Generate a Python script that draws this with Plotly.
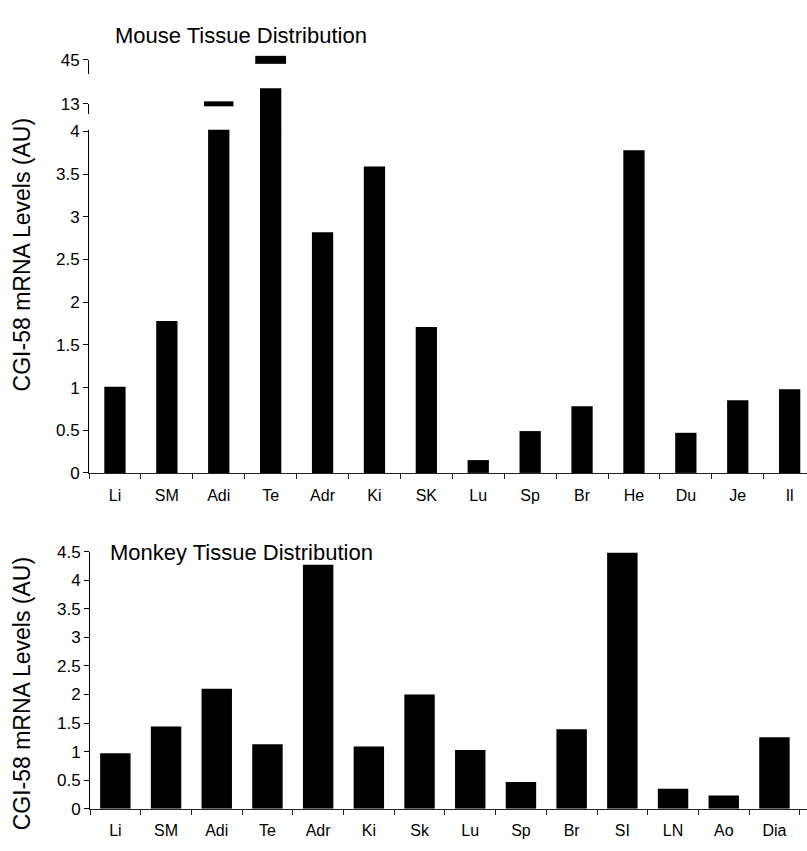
import plotly.graph_objects as go

# ---------------- data ----------------
mouse_tissues = ["Li", "SM", "Adi", "Te", "Adr", "Ki", "SK", "Lu", "Sp", "Br", "He", "Du", "Je", "Il"]
mouse_values = [1.01, 1.78, 13, 45, 2.82, 3.59, 1.71, 0.15, 0.49, 0.78, 3.78, 0.47, 0.85, 0.98]
mouse_ticks = [0, 0.5, 1, 1.5, 2, 2.5, 3, 3.5, 4]
mouse_tick_text = ["0", "0.5", "1", "1.5", "2", "2.5", "3", "3.5", "4"]
break_levels = [13, 45]

monkey_tissues = ["Li", "SM", "Adi", "Te", "Adr", "Ki", "Sk", "Lu", "Sp", "Br", "SI", "LN", "Ao", "Dia"]
monkey_values = [0.97, 1.44, 2.10, 1.13, 4.27, 1.09, 2.00, 1.03, 0.47, 1.39, 4.48, 0.35, 0.23, 1.25]
monkey_ticks = [0, 0.5, 1, 1.5, 2, 2.5, 3, 3.5, 4, 4.5]
monkey_tick_text = ["0", "0.5", "1", "1.5", "2", "2.5", "3", "3.5", "4", "4.5"]

titles = ["Mouse Tissue Distribution", "Monkey Tissue Distribution"]
y_title = "CGI-58 mRNA Levels (AU)"

# ---------------- layout helpers ----------------
W, H = 807, 851
FONT = "Liberation Sans, Arial, Helvetica, sans-serif"


def py(px):
    return 1 - px / H


def px_x(px):
    return px / W


top_zero_px, top_unit_px = 474.5, 87.3
bot_zero_px, bot_top_px = 818, 555
main_top = 4.02
seg_base = main_top - 0.02

# bars that pass beyond the first break continue upward
pass_vals = [v if v > break_levels[0] * 1.1 else None for v in mouse_values]
cap13 = [v if (v > main_top and v <= break_levels[0] * 1.1) else None for v in mouse_values]
cap45 = [v if (v > break_levels[0] * 1.1) else None for v in mouse_values]

fig = go.Figure()

fig.add_trace(go.Bar(x=mouse_tissues, y=mouse_values, xaxis="x", yaxis="y",
                     marker=dict(color="black", line=dict(width=0)), width=0.41, showlegend=False))
fig.add_trace(go.Bar(x=mouse_tissues, y=pass_vals, base=seg_base, xaxis="x", yaxis="y2",
                     marker=dict(color="black", line=dict(width=0)), width=0.41, showlegend=False))
fig.add_trace(go.Scatter(x=mouse_tissues, y=cap13, xaxis="x", yaxis="y3", mode="markers",
                         marker=dict(symbol="line-ew", size=21, color="black",
                                     line=dict(width=5, color="black")),
                         cliponaxis=False, showlegend=False))
fig.add_trace(go.Scatter(x=mouse_tissues, y=cap45, xaxis="x", yaxis="y4", mode="markers",
                         marker=dict(symbol="line-ew", size=22, color="black",
                                     line=dict(width=8, color="black")),
                         cliponaxis=False, showlegend=False))

fig.add_trace(go.Bar(x=monkey_tissues, y=monkey_values, xaxis="x2", yaxis="y5",
                     marker=dict(color="black", line=dict(width=0)), width=0.6, showlegend=False))

tickfont = dict(family=FONT, size=17, color="black")
xtickfont = dict(family=FONT, size=16, color="black")

top_left, bot_left = 89, 90
top_step, bot_step = 51.9, 50.7

axis_common = dict(showgrid=False, zeroline=False, ticks="outside", ticklen=5,
                   tickcolor="black", linecolor="black", linewidth=1, showline=True,
                   tickfont=tickfont, fixedrange=True)

fig.update_layout(
    width=W, height=H,
    margin=dict(l=0, r=0, t=0, b=0),
    paper_bgcolor="white", plot_bgcolor="rgba(0,0,0,0)",
    hovermode=False,
    xaxis=dict(domain=[px_x(top_left), 1], anchor="y",
               range=[-0.5, -0.5 + (W - top_left) / top_step],
               showgrid=False, zeroline=False, showline=True, linecolor="#222", linewidth=1.5,
               ticks="outside", ticklen=5, tickcolor="#222", tickson="boundaries",
               tickfont=xtickfont, ticklabelstandoff=7, fixedrange=True),
    yaxis=dict(domain=[py(top_zero_px), py(top_zero_px - main_top * top_unit_px)], range=[0, main_top],
               tickvals=mouse_ticks, ticktext=mouse_tick_text, anchor="x", **axis_common),
    yaxis2=dict(domain=[py(top_zero_px - seg_base * top_unit_px), py(81)],
                range=[seg_base, break_levels[0]],
                anchor="x", visible=False, fixedrange=True),
    yaxis3=dict(domain=[py(107), py(97)], range=[break_levels[0] - 1, break_levels[0]],
                tickvals=[break_levels[0]], ticktext=[str(break_levels[0])], anchor="x", **axis_common),
    yaxis4=dict(domain=[py(66), py(52)], range=[break_levels[1] - 1, break_levels[1]],
                tickvals=[break_levels[1]], ticktext=[str(break_levels[1])], anchor="x", **axis_common),
    xaxis2=dict(domain=[px_x(bot_left), 1], anchor="y5",
                range=[-0.5, -0.5 + (W - bot_left) / bot_step],
                showgrid=False, zeroline=False, showline=True, linecolor="#222", linewidth=1.5,
                ticks="outside", ticklen=5, tickcolor="#222", tickson="boundaries",
                tickfont=xtickfont, ticklabelstandoff=7, fixedrange=True),
    yaxis5=dict(domain=[py(bot_zero_px), py(bot_top_px)], range=[0, 4.5],
                tickvals=monkey_ticks, ticktext=monkey_tick_text, anchor="x2", **axis_common),
    annotations=[
        dict(text=titles[0], xref="paper", yref="paper", x=px_x(113), y=py(27),
             xanchor="left", yanchor="middle", showarrow=False,
             font=dict(family=FONT, size=22, color="black")),
        dict(text=titles[1], xref="paper", yref="paper", x=px_x(108), y=py(556),
             xanchor="left", yanchor="middle", showarrow=False,
             font=dict(family=FONT, size=22, color="black")),
        dict(text=y_title, xref="paper", yref="paper", x=px_x(22), y=py(251),
             xanchor="center", yanchor="middle", textangle=-90, showarrow=False,
             font=dict(family=FONT, size=23, color="black")),
        dict(text=y_title, xref="paper", yref="paper", x=px_x(22), y=py(700),
             xanchor="center", yanchor="middle", textangle=-90, showarrow=False,
             font=dict(family=FONT, size=23, color="black")),
    ],
)

fig.write_html("out.html", config={"displayModeBar": False, "staticPlot": True},
               post_script="document.body.style.margin='0px';document.body.style.overflow='hidden';")
